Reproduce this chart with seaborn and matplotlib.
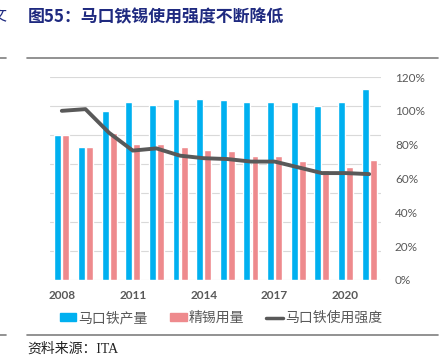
import numpy as np
import pandas as pd
import matplotlib
matplotlib.use("Agg")
import matplotlib.pyplot as plt
import seaborn as sns
from matplotlib.patches import Patch
from matplotlib.lines import Line2D

# data (index, 2008 = 100)
years = [2008, 2009, 2010, 2011, 2012, 2013, 2014, 2015, 2016, 2017, 2018, 2019, 2020, 2021]
tinplate = [100, 91.7, 116.8, 122.8, 120.9, 124.8, 124.8, 123.9, 122.8, 122.8, 122.8, 119.8, 122.8, 131.7]
refined_tin = [100, 91.7, 101.1, 93.8, 93.8, 91.7, 89.9, 89.0, 85.8, 85.8, 81.8, 75.9, 77.7, 82.8]
intensity = [1.00, 1.01, 0.87, 0.765, 0.778, 0.735, 0.72, 0.715, 0.70, 0.70, 0.666, 0.632, 0.632, 0.626]
series_names = ['马口铁产量', '精锡用量', '马口铁使用强度']
pct_ticks = [0, 0.2, 0.4, 0.6, 0.8, 1.0, 1.2]

blue = '#00B0F0'
pink = '#EE8A8D'
grey_line = '#595959'

sns.set_style('white')
plt.rcParams['font.family'] = ['Lato', 'Noto Sans CJK SC', 'DejaVu Sans']

df = pd.DataFrame({'year': years * 2,
                   'value': tinplate + refined_tin,
                   'series': [series_names[0]] * len(years) + [series_names[1]] * len(years)})

fig = plt.figure(figsize=(4.43, 3.56), dpi=100)
ax = fig.add_axes([50 / 443, 1 - 280 / 356, 331 / 443, 203 / 356])

sns.barplot(data=df, x='year', y='value', hue='series', palette=[blue, pink],
            width=0.68, gap=0.14, ax=ax, legend=False, saturation=1)
ax.set_xticks(range(0, len(years), 3))
ax.set_xticklabels([str(y) for y in years[::3]], fontsize=8.5, fontweight='bold', color='#595959')
ax.set_xlim(-0.5, len(years) - 0.5)
ax.set_xlabel('')
ax.set_ylabel('')

# line on the secondary (right) axis
ax2 = ax.twinx()
sns.lineplot(x=np.arange(len(years)), y=intensity, color=grey_line, linewidth=2.8, ax=ax2)
ax2.set_ylim(0, 1.2)
ax2.set_yticks(pct_ticks)
ax2.set_yticklabels([f'{int(round(t * 100))}%' for t in pct_ticks], fontsize=8.5, color='#595959')
ax2.tick_params(axis='y', length=0, pad=10)
ax2.set_xlim(-0.5, len(years) - 0.5)

# primary axis: hidden labels, gridlines only
ax.set_ylim(0, 140)
ax.set_yticks(np.arange(0, 141, 20))
ax.tick_params(axis='y', left=False, right=False, labelleft=False, length=0)
ax.tick_params(axis='x', length=0, pad=7)
ax.grid(True, axis='y', color='#D9D9D9', linewidth=0.8)
ax.set_axisbelow(True)
for a in (ax, ax2):
    for s in a.spines.values():
        s.set_visible(False)

handles = [Patch(color=blue), Patch(color=pink), Line2D([0], [0], color=grey_line, linewidth=2.5)]
fig.legend(handles, series_names, loc='center', bbox_to_anchor=(221 / 443, 1 - 318 / 356),
           ncol=3, frameon=False, handlelength=1.2, handleheight=0.5,
           handletextpad=0.15, columnspacing=1.6, labelcolor='#595959',
           prop={'family': ['Noto Sans CJK SC'], 'size': 10})

# title, rules, source
fig.text(28 / 443, 1 - 17 / 356, '图55：马口铁锡使用强度不断降低', fontsize=12.2, fontweight='bold',
         color='#1F2A80', family=['Noto Sans CJK SC'], va='center', ha='left')
fig.text(6 / 443, 1 - 17 / 356, '文', fontsize=11.5, color='#1F2A80',
         family=['Noto Sans CJK SC'], va='center', ha='right')
for yy in [58, 335]:
    fig.add_artist(Line2D([27 / 443, 438 / 443], [1 - yy / 356] * 2, color='#7F7F7F', linewidth=1.2))
    fig.add_artist(Line2D([0, 6 / 443], [1 - yy / 356] * 2, color='#7F7F7F', linewidth=1.2))
fig.text(27 / 443, 1 - 349 / 356, '资料来源：ITA', fontsize=10, color='#222222',
         family=['Liberation Serif', 'Noto Sans CJK SC'], va='center', ha='left')

fig.savefig('out.png', dpi=100)
